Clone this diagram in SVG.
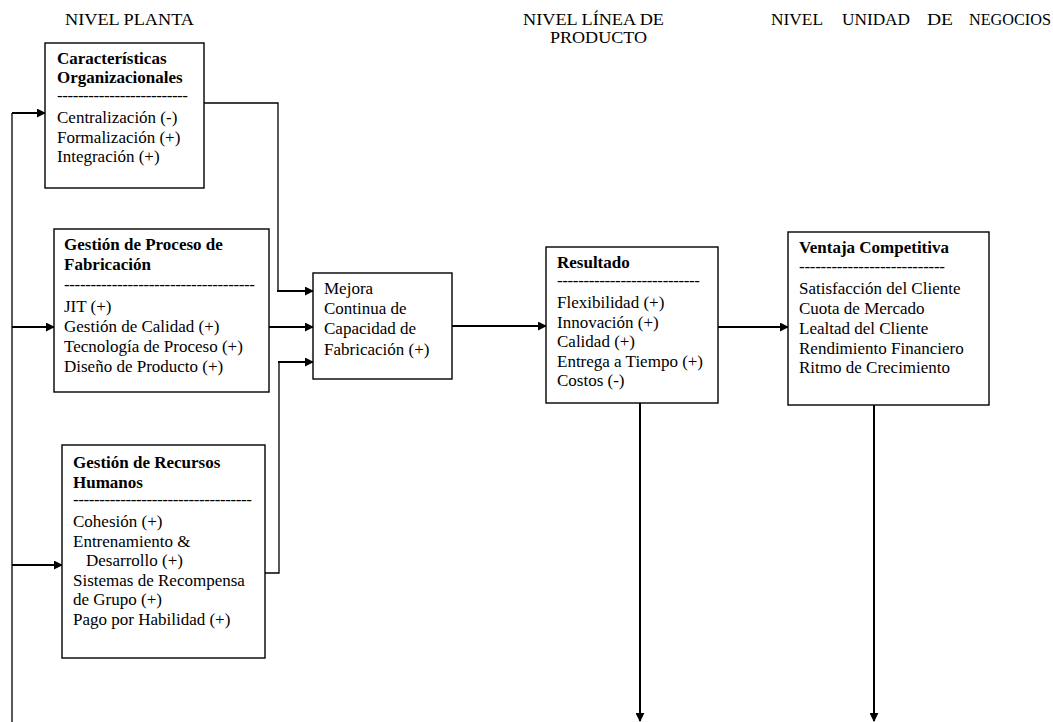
<svg xmlns="http://www.w3.org/2000/svg" width="1053" height="722" viewBox="0 0 1053 722">
  <style>
    text { font-family: "Liberation Serif", "Times New Roman", serif; fill: #000; }
    .hdr { font-size: 17px; }
    .ttl { font-size: 17px; font-weight: bold; }
    .itm { font-size: 17px; }
    .box { fill: #fff; stroke: #000; stroke-width: 1.4; }
    .wire { fill: none; stroke: #000; stroke-width: 1.3; }
    .arr { fill: none; stroke: #000; stroke-width: 2; marker-end: url(#head); }
  </style>
  <defs>
    <marker id="head" viewBox="0 0 10 10" refX="9" refY="5" markerWidth="4.5" markerHeight="4.5" markerUnits="strokeWidth" orient="auto">
      <path d="M0,0 L10,5 L0,10 Z" fill="#000"/>
    </marker>
  </defs>
  <rect width="1053" height="722" fill="#fff"/>

  <!-- level headings -->
  <g id="headings">
    <text class="hdr" x="65" y="25" textLength="129" lengthAdjust="spacingAndGlyphs">NIVEL PLANTA</text>
    <text class="hdr" x="523" y="25" textLength="141" lengthAdjust="spacingAndGlyphs">NIVEL LÍNEA DE</text>
    <text class="hdr" x="550" y="43" textLength="97" lengthAdjust="spacingAndGlyphs">PRODUCTO</text>
    <text class="hdr" x="771" y="25" textLength="52" lengthAdjust="spacingAndGlyphs">NIVEL</text>
    <text class="hdr" x="842" y="25" textLength="68" lengthAdjust="spacingAndGlyphs">UNIDAD</text>
    <text class="hdr" x="927" y="25" textLength="26" lengthAdjust="spacingAndGlyphs">DE</text>
    <text class="hdr" x="969" y="25" textLength="82" lengthAdjust="spacingAndGlyphs">NEGOCIOS</text>
  </g>

  <!-- connectors -->
  <g id="connectors">
    <path class="wire" d="M12,113 V722"/>
    <path class="arr" d="M12,113 H45"/>
    <path class="arr" d="M12,327 H54"/>
    <path class="arr" d="M12,565 H62"/>
    <path class="wire" d="M204,103 H278 V291"/>
    <path class="arr" d="M277,291 H313"/>
    <path class="arr" d="M269,327 H313"/>
    <path class="wire" d="M265,573 H279 V362"/>
    <path class="arr" d="M278,362 H313"/>
    <path class="arr" d="M452,326 H546"/>
    <path class="arr" d="M718,327 H788"/>
    <path class="arr" d="M640,403 V721"/>
    <path class="arr" d="M874,405 V721"/>
  </g>

  <g id="org">
    <rect class="box" x="45" y="43" width="159" height="145"/>
    <text class="ttl" x="57" y="64">Características</text>
    <text class="ttl" x="57" y="83">Organizacionales</text>
    <text class="itm" x="57" y="101" textLength="131" lengthAdjust="spacing">-------------------------</text>
    <text class="itm" x="57" y="123">Centralización (-)</text>
    <text class="itm" x="57" y="143">Formalización (+)</text>
    <text class="itm" x="57" y="162">Integración (+)</text>
  </g>

  <g id="proceso">
    <rect class="box" x="54" y="229" width="215" height="163"/>
    <text class="ttl" x="64" y="250">Gestión de Proceso de</text>
    <text class="ttl" x="64" y="270">Fabricación</text>
    <text class="itm" x="64" y="290" textLength="191" lengthAdjust="spacing">------------------------------------</text>
    <text class="itm" x="64" y="312">JIT (+)</text>
    <text class="itm" x="64" y="332">Gestión de Calidad (+)</text>
    <text class="itm" x="64" y="352">Tecnología de Proceso (+)</text>
    <text class="itm" x="64" y="372">Diseño de Producto (+)</text>
  </g>

  <g id="rrhh">
    <rect class="box" x="62" y="445" width="203" height="213"/>
    <text class="ttl" x="73" y="468">Gestión de Recursos</text>
    <text class="ttl" x="73" y="488">Humanos</text>
    <text class="itm" x="73" y="505" textLength="179" lengthAdjust="spacing">----------------------------------</text>
    <text class="itm" x="73" y="527">Cohesión (+)</text>
    <text class="itm" x="73" y="547">Entrenamiento &amp;</text>
    <text class="itm" x="86" y="566">Desarrollo (+)</text>
    <text class="itm" x="73" y="586">Sistemas de Recompensa</text>
    <text class="itm" x="73" y="605">de Grupo (+)</text>
    <text class="itm" x="73" y="625">Pago por Habilidad (+)</text>
  </g>

  <g id="mejora">
    <rect class="box" x="313" y="273" width="139" height="106"/>
    <text class="itm" x="324" y="294">Mejora</text>
    <text class="itm" x="324" y="314">Continua de</text>
    <text class="itm" x="324" y="334">Capacidad de</text>
    <text class="itm" x="324" y="355">Fabricación (+)</text>
  </g>

  <g id="resultado">
    <rect class="box" x="546" y="247" width="172" height="156"/>
    <text class="ttl" x="557" y="268">Resultado</text>
    <text class="itm" x="557" y="286" textLength="143" lengthAdjust="spacing">---------------------------</text>
    <text class="itm" x="557" y="308">Flexibilidad (+)</text>
    <text class="itm" x="557" y="328">Innovación (+)</text>
    <text class="itm" x="557" y="347">Calidad (+)</text>
    <text class="itm" x="557" y="367">Entrega a Tiempo (+)</text>
    <text class="itm" x="557" y="386">Costos (-)</text>
  </g>

  <g id="ventaja">
    <rect class="box" x="788" y="232" width="201" height="173"/>
    <text class="ttl" x="799" y="253">Ventaja Competitiva</text>
    <text class="itm" x="799" y="272" textLength="146" lengthAdjust="spacing">---------------------------</text>
    <text class="itm" x="799" y="294">Satisfacción del Cliente</text>
    <text class="itm" x="799" y="314">Cuota de Mercado</text>
    <text class="itm" x="799" y="334">Lealtad del Cliente</text>
    <text class="itm" x="799" y="354">Rendimiento Financiero</text>
    <text class="itm" x="799" y="373">Ritmo de Crecimiento</text>
  </g>
</svg>
